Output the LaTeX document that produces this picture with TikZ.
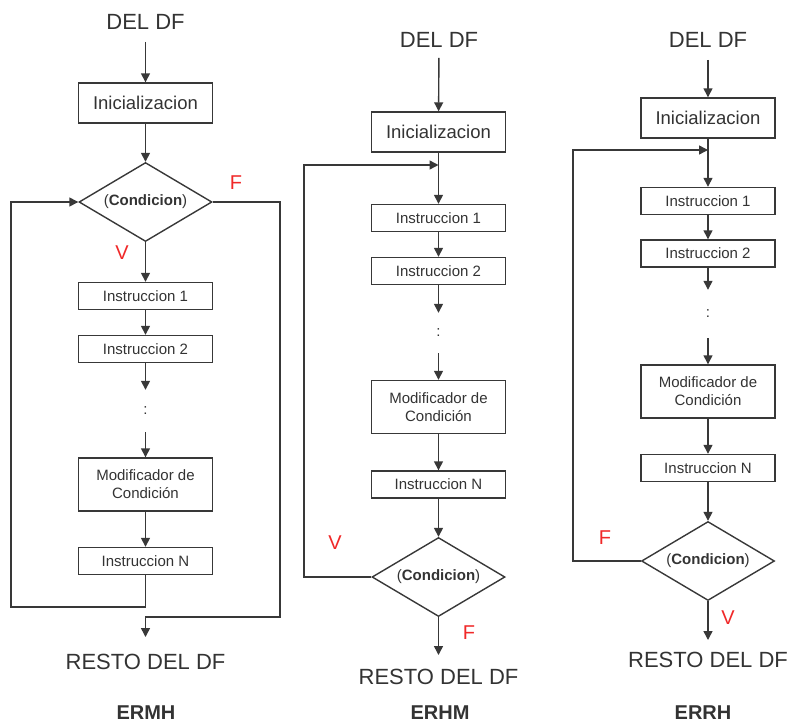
\documentclass[tikz,border=0pt]{standalone}
\usepackage{fontspec}
\setmainfont{Liberation Sans}
\usetikzlibrary{arrows.meta,shapes.geometric}
\definecolor{ln}{HTML}{383838}
\definecolor{tx}{HTML}{333333}
\definecolor{lbl}{HTML}{F02828}
\begin{document}
\begin{tikzpicture}[x=1pt,y=-1pt,
  arr/.style={draw=ln,line width=1.4pt,-{Triangle[length=9pt,width=9pt]}},
  box/.style={draw=ln,line width=1.4pt,minimum width=134pt,inner sep=0pt,text=tx,align=center},
  inibox/.style={box,minimum height=40pt,font=\fontsize{18.5}{21}\selectfont},
  ibox/.style={box,minimum height=27pt,font=\fontsize{15}{17}\selectfont},
  mbox/.style={box,minimum height=53pt,font=\fontsize{15}{18}\selectfont},
  dia/.style={diamond,draw=ln,line width=1.4pt,minimum width=133pt,minimum height=79pt,aspect=1.68,inner sep=0pt,text=tx,font=\fontsize{15}{17}\selectfont},
  dotsnode/.style={inner sep=0pt,text=tx,font=\fontsize{15}{17}\selectfont},
  title/.style={inner sep=0pt,text=tx,font=\fontsize{22}{25}\selectfont},
  captxt/.style={inner sep=0pt,text=tx,font=\fontsize{20}{23}\selectfont\bfseries},
  lab/.style={inner sep=0pt,text=lbl,font=\fontsize{20}{23}\selectfont}
]
\useasboundingbox (0,0) rectangle (790,723);

% ---------------- ERMH ----------------
\node[title] (l0) at (145.5,22) {DEL DF};
\node[inibox] (l1) at (145.5,103) {Inicializacion};
\node[dia] (l2) at (145.5,202) {(\textbf{Condicion})};
\node[ibox] (l3) at (145.5,296) {Instruccion 1};
\node[ibox] (l4) at (145.5,349) {Instruccion 2};
\node[dotsnode,minimum height=42pt] (l5) at (145.5,411) {:};
\node[mbox] (l6) at (145.5,484.5) {Modificador de\\Condición};
\node[ibox] (l7) at (145.5,561) {Instruccion N};
\node[title] (l8) at (145.5,662) {RESTO DEL DF};
\node[captxt] (l9) at (146,713) {ERMH};
\node[lab] (lF) at (236,183) {F};
\node[lab] (lV) at (122,253) {V};
\coordinate (lr1) at (280,617);
\coordinate (ll1) at (11,607);

\draw[arr,shorten <=12pt] (l0) -- (l1);
\draw[arr] (l1) -- (l2);
\draw[arr] (l2) -- (l3);
\draw[arr] (l3) -- (l4);
\draw[arr] (l4.south) -- (l5.north);
\draw[arr] (l5.south) -- (l6.north);
\draw[arr] (l6) -- (l7);
\draw[arr] (l7.south) |- (ll1) |- (l2.west);
\draw[arr,shorten >=17pt] (l2.east) -| (lr1) -| (l8.north);

% ---------------- ERHM ----------------
\node[title] (m0) at (439,40) {DEL DF};
\node[inibox] (m1) at (438.5,132) {Inicializacion};
\coordinate (mj) at (438.5,165);
\node[ibox] (m3) at (438.5,218) {Instruccion 1};
\node[ibox] (m4) at (438.5,271) {Instruccion 2};
\node[dotsnode,minimum height=40pt] (m5) at (438.5,333) {:};
\node[mbox] (m6) at (438.5,407) {Modificador de\\Condición};
\node[ibox] (m7) at (438.5,484.5) {Instruccion N};
\node[dia] (m2) at (438.5,577) {(\textbf{Condicion})};
\node[title] (m8) at (438.5,677) {RESTO DEL DF};
\node[captxt] (m9) at (440,713) {ERHM};
\node[lab] (mV) at (335,543) {V};
\node[lab] (mF) at (469,633) {F};
\coordinate (ml1) at (304,165);

\draw[arr,shorten <=10pt] (m0) -- (m1);
\draw[arr] (m1) -- (m3);
\draw[arr] (m3) -- (m4);
\draw[arr] (m4.south) -- (m5.north);
\draw[arr] (m5.south) -- (m6.north);
\draw[arr] (m6) -- (m7);
\draw[arr] (m7) -- (m2);
\draw[arr] (m2.west) -| (ml1) -- (mj);
\draw[arr,shorten >=14pt] (m2.south) -- (m8.north);

% ---------------- ERRH ----------------
\node[title] (r0) at (708,40) {DEL DF};
\node[inibox] (r1) at (708,118) {Inicializacion};
\coordinate (rj) at (708,150);
\node[ibox] (r3) at (708,201) {Instruccion 1};
\node[ibox] (r4) at (708,253.5) {Instruccion 2};
\node[dotsnode,minimum height=48pt] (r5) at (708,314) {:};
\node[mbox] (r6) at (708,391.5) {Modificador de\\Condición};
\node[ibox] (r7) at (708,468) {Instruccion N};
\node[dia] (r2) at (708,561) {(\textbf{Condicion})};
\node[title] (r8) at (708,660) {RESTO DEL DF};
\node[captxt] (r9) at (703,713) {ERRH};
\node[lab] (rF) at (605,538) {F};
\node[lab] (rV) at (728,618) {V};
\coordinate (rl1) at (573,150);

\draw[arr,shorten <=12pt] (r0) -- (r1);
\draw[arr] (r1) -- (r3);
\draw[arr] (r3) -- (r4);
\draw[arr] (r4.south) -- (r5.north);
\draw[arr] (r5.south) -- (r6.north);
\draw[arr] (r6) -- (r7);
\draw[arr] (r7) -- (r2);
\draw[arr] (r2.west) -| (rl1) -- (rj);
\draw[arr,shorten >=12pt] (r2.south) -- (r8.north);
\end{tikzpicture}
\end{document}
